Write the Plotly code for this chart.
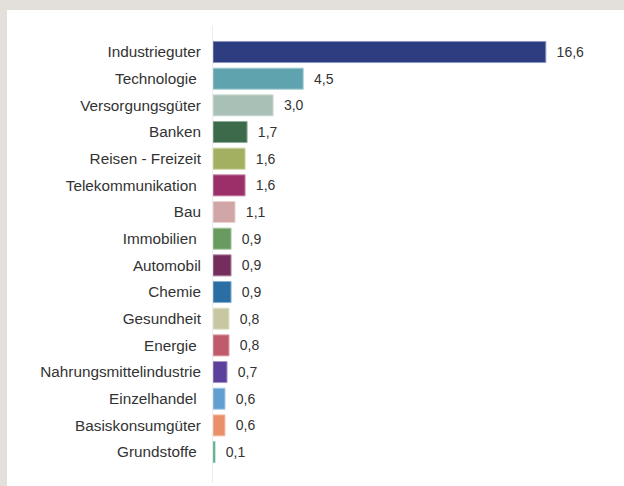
import plotly.graph_objects as go

categories = ["Industrieguter", "Technologie ", "Versorgungsgüter", "Banken", "Reisen - Freizeit",
              "Telekommunikation ", "Bau", "Immobilien ", "Automobil", "Chemie", "Gesundheit",
              "Energie ", "Nahrungsmittelindustrie", "Einzelhandel ", "Basiskonsumgüter", "Grundstoffe "]
values = [16.6, 4.5, 3.0, 1.7, 1.6, 1.6, 1.1, 0.9, 0.9, 0.9, 0.8, 0.8, 0.7, 0.6, 0.6, 0.1]
colors = ["#2e3d80", "#5fa3ae", "#a9c0b7", "#3c6a4a", "#a3b062", "#9b2f69", "#d1a6a6", "#699a5f",
          "#742d5d", "#2b6ea3", "#c7c7a1", "#c05b6b", "#5d3f9c", "#609fd0", "#e98f69", "#3a9b72"]
line_colors = ["#8a96c4", "#a8d0d6", "#d2dfda", "#8fae98", "#cdd5a4", "#cc8fb0", "#ebd2d2", "#a9c8a2",
               "#b38aa6", "#88b2d2", "#e3e3cf", "#e0a4ad", "#a796cc", "#a9cbe8", "#f5c6b2", "#94cdb4"]

W, H = 624, 486
L, R, T, B = 213, 10, 26, 3
pw, ph = W - L - R, H - T - B

FONT = "Liberation Sans"

fig = go.Figure(go.Bar(
    x=values, y=categories, orientation="h",
    marker=dict(color=colors, line=dict(color=line_colors, width=1)),
    text=values, texttemplate="  %{x:.1f}", textposition="outside",
    textfont=dict(family=FONT, size=14, color="#333333"),
    cliponaxis=False,
))

fig.update_layout(
    width=W, height=H,
    margin=dict(l=L, r=R, t=T, b=B),
    paper_bgcolor="white", plot_bgcolor="white",
    separators=",.",
    bargap=0.21,
    showlegend=False,
    font=dict(family=FONT, size=15, color="#333333"),
    xaxis=dict(range=[0, 20], visible=False),
    yaxis=dict(categoryorder="array", categoryarray=categories,
               range=[16.16, -0.975], showline=True, linecolor="#ececec", linewidth=1,
               showgrid=False, ticks="", ticklabelstandoff=8,
               tickfont=dict(family=FONT, size=15.3, color="#333333")),
    shapes=[
        dict(type="rect", xref="paper", yref="paper",
             x0=-L / pw, x1=(W - L) / pw, y0=1 + (T - 10) / ph, y1=1 + T / ph,
             fillcolor="#e3dfdb", line=dict(width=0), layer="above"),
        dict(type="rect", xref="paper", yref="paper",
             x0=-L / pw, x1=(7 - L) / pw, y0=-B / ph, y1=1 + T / ph,
             fillcolor="#e3dfdb", line=dict(width=0), layer="above"),
    ],
)

fig.write_html("out.html", config={"displayModeBar": False},
               post_script="document.body.style.margin='0';document.body.style.overflow='hidden';")
